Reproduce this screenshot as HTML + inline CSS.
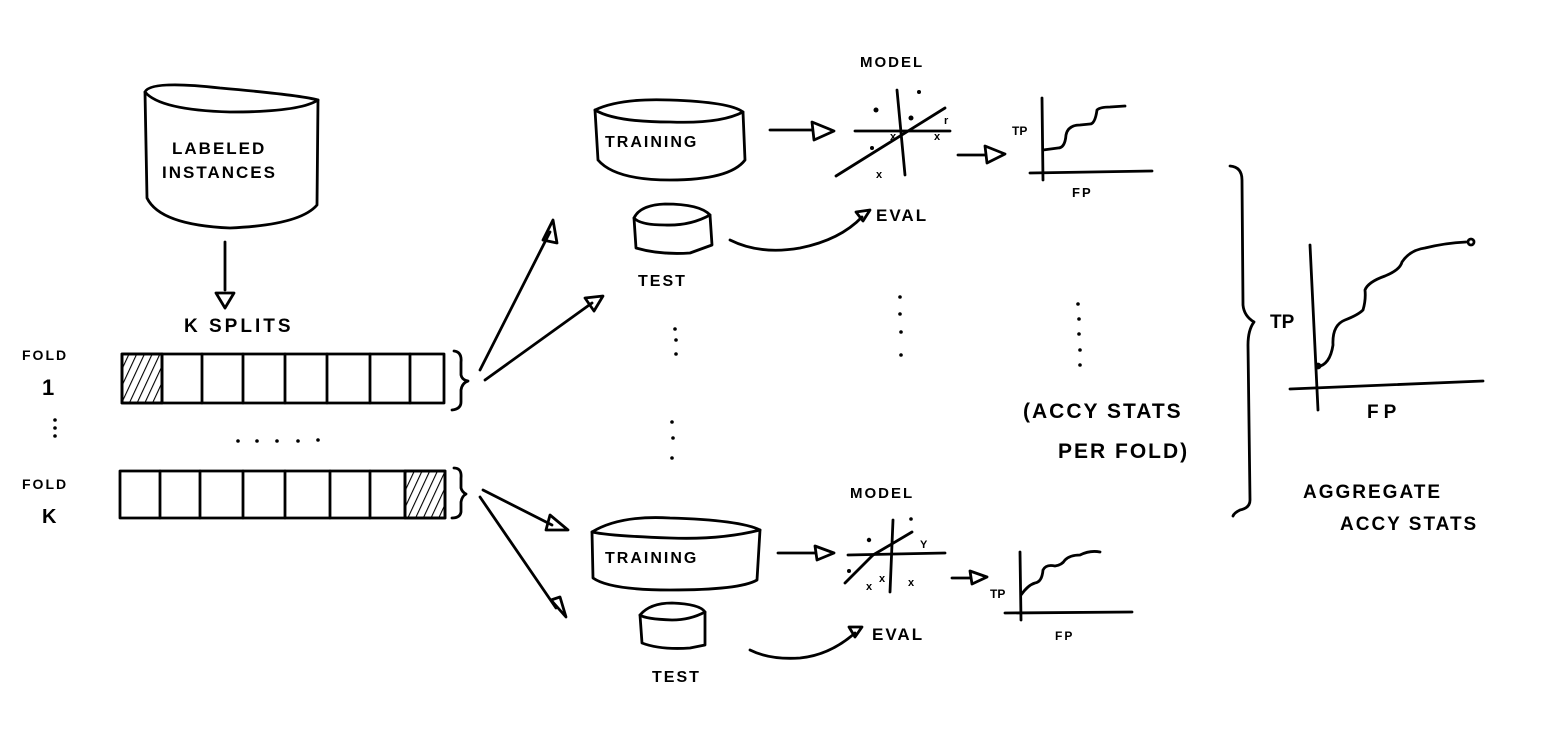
<!DOCTYPE html>
<html><head><meta charset="utf-8"><style>
html,body{margin:0;padding:0;background:#fff;}
svg{display:block;}
text{font-family:"Liberation Sans",sans-serif;font-weight:bold;fill:#000;}
</style></head><body>
<svg width="1546" height="729" viewBox="0 0 1546 729" xmlns="http://www.w3.org/2000/svg">
<defs>
<pattern id="h" width="7" height="7" patternUnits="userSpaceOnUse" patternTransform="rotate(25)">
<line x1="0" y1="0" x2="0" y2="7" stroke="#000" stroke-width="2.2"/></pattern>
</defs>
<g fill="none" stroke="#000" stroke-width="2.8" stroke-linecap="round" stroke-linejoin="round">
<path d="M145,92 Q150,80 220,88 Q300,95 318,100 Q300,112 230,112 Q160,110 145,92 Z"/>
<path d="M145,92 L147,198 Q160,225 230,228 Q300,225 317,205 L318,100"/>
<line x1="225" y1="242" x2="225" y2="290"/>
<path d="M216,293 L234,293 L225,308 Z"/>
<rect x="122" y="354" width="322" height="49"/>
<rect x="122" y="354" width="40" height="49" fill="url(#h)"/>
<path d="M162,354V403M202,354V403M243,354V403M285,354V403M327,354V403M370,354V403M410,354V403"/>
<rect x="120" y="471" width="325" height="47"/>
<rect x="405" y="471" width="40" height="47" fill="url(#h)"/>
<path d="M160,471V518M200,471V518M243,471V518M285,471V518M330,471V518M370,471V518M405,471V518"/>
<path d="M454,351 Q462,352 461,362 L461,375 Q462,380 468,381 Q462,383 461,390 L461,402 Q461,409 452,410"/>
<path d="M454,468 Q462,468 461,478 L461,488 Q462,492 466,494 Q462,496 461,502 L461,512 Q460,518 452,518"/>
<line x1="480" y1="370" x2="550" y2="232"/>
<path d="M543,240 L553,220 L557,243 Z"/>
<line x1="485" y1="380" x2="592" y2="303"/>
<path d="M585,298 L603,296 L594,311 Z"/>
<line x1="483" y1="490" x2="552" y2="525"/>
<path d="M550,515 L568,530 L546,530 Z"/>
<line x1="480" y1="497" x2="556" y2="608"/>
<path d="M551,600 L566,617 L560,597 Z"/>
<path d="M595,110 Q620,98 670,100 Q730,102 743,112 Q720,124 670,122 Q615,122 595,110 Z"/>
<path d="M595,110 L598,160 Q615,180 670,180 Q730,180 745,160 L743,112"/>
<path d="M634,218 Q640,205 665,204 Q700,204 710,215 Q690,226 665,225 Q640,225 634,218 Z"/>
<path d="M634,218 L636,248 Q660,255 690,253 L712,245 L710,215"/>
<line x1="770" y1="130" x2="812" y2="130"/>
<path d="M812,122 L834,131 L814,140 Z"/>
<line x1="855" y1="131" x2="950" y2="131"/>
<line x1="897" y1="90" x2="905" y2="175"/>
<line x1="836" y1="176" x2="945" y2="108"/>
<line x1="958" y1="155" x2="985" y2="155"/>
<path d="M985,146 L1005,154 L987,163 Z"/>
<line x1="1042" y1="98" x2="1043" y2="180"/>
<line x1="1030" y1="173" x2="1152" y2="171"/>
<path d="M1043,150 L1058,148 Q1065,148 1066,135 Q1068,125 1080,125 L1090,124 Q1095,124 1097,110 Q1100,107 1110,107 L1125,106"/>
<path d="M730,240 Q760,255 800,248 Q840,240 862,217"/>
<path d="M856,212 L870,210 L863,221 Z"/>
<path d="M592,532 Q620,515 670,518 Q740,520 760,530 Q720,540 670,538 Q610,536 592,532 Z"/>
<path d="M592,532 L593,578 Q610,590 670,590 Q740,590 757,580 L760,530"/>
<path d="M640,615 Q650,603 672,603 Q700,604 705,612 Q690,620 672,620 Q645,619 640,615 Z"/>
<path d="M640,615 L642,643 Q660,650 690,648 L705,645 L705,612"/>
<line x1="778" y1="553" x2="815" y2="553"/>
<path d="M815,546 L834,553 L817,560 Z"/>
<line x1="848" y1="555" x2="945" y2="553"/>
<line x1="893" y1="520" x2="890" y2="592"/>
<line x1="845" y1="583" x2="873" y2="555"/>
<line x1="873" y1="555" x2="912" y2="532"/>
<line x1="952" y1="578" x2="970" y2="578"/>
<path d="M970,571 L987,577 L972,584 Z"/>
<line x1="1020" y1="552" x2="1021" y2="620"/>
<line x1="1005" y1="613" x2="1132" y2="612"/>
<path d="M1021,595 Q1028,585 1035,583 Q1042,582 1043,570 Q1046,564 1055,566 Q1062,565 1065,560 Q1070,555 1080,555 Q1090,550 1100,552"/>
<path d="M750,650 Q770,660 800,658 Q830,655 855,633"/>
<path d="M849,627 L862,627 L855,637 Z"/>
<path d="M1230,166 Q1242,167 1242,180 L1243,305 Q1244,316 1254,322 Q1248,330 1248,345 L1250,500 Q1250,508 1240,510 Q1234,513 1233,516"/>
<line x1="1310" y1="245" x2="1318" y2="410"/>
<line x1="1290" y1="389" x2="1483" y2="381"/>
<path d="M1317,367 Q1330,365 1333,345 Q1332,325 1345,320 Q1358,315 1363,310 Q1366,300 1365,290 Q1368,282 1385,276 Q1400,270 1402,262 Q1410,250 1425,248 Q1445,243 1466,242"/>
<circle cx="1471" cy="242" r="3"/>
<circle cx="1318" cy="366" r="2"/>
</g>
<g fill="#000">
<circle cx="675" cy="329" r="1.8"/><circle cx="676" cy="340" r="1.8"/><circle cx="676" cy="354" r="1.8"/>
<circle cx="672" cy="422" r="1.8"/><circle cx="673" cy="438" r="1.8"/><circle cx="672" cy="458" r="1.8"/>
<circle cx="900" cy="297" r="1.8"/><circle cx="900" cy="314" r="1.8"/><circle cx="901" cy="332" r="1.8"/><circle cx="901" cy="355" r="1.8"/>
<circle cx="1078" cy="304" r="1.8"/><circle cx="1079" cy="319" r="1.8"/><circle cx="1079" cy="334" r="1.8"/><circle cx="1080" cy="350" r="1.8"/><circle cx="1080" cy="365" r="1.8"/>
<circle cx="55" cy="420" r="1.8"/><circle cx="55" cy="428" r="1.8"/><circle cx="55" cy="436" r="1.8"/>
<circle cx="238" cy="441" r="1.8"/><circle cx="257" cy="441" r="1.8"/><circle cx="277" cy="441" r="1.8"/><circle cx="298" cy="441" r="1.8"/><circle cx="318" cy="440" r="1.8"/>
<circle cx="876" cy="110" r="2.5"/><circle cx="872" cy="148" r="2"/><circle cx="919" cy="92" r="2"/>
<circle cx="911" cy="118" r="2.5"/>
<circle cx="869" cy="540" r="2.2"/><circle cx="911" cy="519" r="1.8"/><circle cx="849" cy="571" r="2"/>
</g>
<g font-size="13">
<text x="890" y="140" font-size="11">x</text>
<text x="934" y="140" font-size="11">x</text>
<text x="876" y="178" font-size="11">x</text>
<text x="944" y="124" font-size="11">r</text>
<text x="866" y="590" font-size="11">x</text>
<text x="879" y="582" font-size="11">x</text>
<text x="908" y="586" font-size="11">x</text>
<text x="920" y="548" font-size="11">Y</text>
</g>
<g font-size="17" letter-spacing="2">
<text x="172" y="154">LABELED</text>
<text x="162" y="178">INSTANCES</text>
<text x="184" y="332" font-size="19" letter-spacing="3">K SPLITS</text>
<text x="605" y="147" font-size="16">TRAINING</text>
<text x="605" y="563" font-size="16">TRAINING</text>
<text x="638" y="286" font-size="16">TEST</text>
<text x="652" y="682" font-size="16">TEST</text>
<text x="860" y="67" font-size="15">MODEL</text>
<text x="850" y="498" font-size="15">MODEL</text>
<text x="876" y="221" font-size="17">EVAL</text>
<text x="872" y="640" font-size="17">EVAL</text>
<text x="1012" y="135" font-size="12" letter-spacing="0">TP</text>
<text x="1072" y="197" font-size="13">FP</text>
<text x="990" y="598" font-size="12" letter-spacing="0">TP</text>
<text x="1055" y="640" font-size="12">FP</text>
<text x="1270" y="328" font-size="19" letter-spacing="0">TP</text>
<text x="1367" y="418" font-size="19" letter-spacing="5">FP</text>
<text x="1023" y="418" font-size="21">(ACCY STATS</text>
<text x="1058" y="458" font-size="21">PER FOLD)</text>
<text x="1303" y="498" font-size="19">AGGREGATE</text>
<text x="1340" y="530" font-size="19">ACCY STATS</text>
<text x="22" y="360" font-size="14">FOLD</text>
<text x="42" y="395" font-size="22">1</text>
<text x="22" y="489" font-size="14">FOLD</text>
<text x="42" y="523" font-size="20">K</text>
</g>
</svg>
</body></html>
